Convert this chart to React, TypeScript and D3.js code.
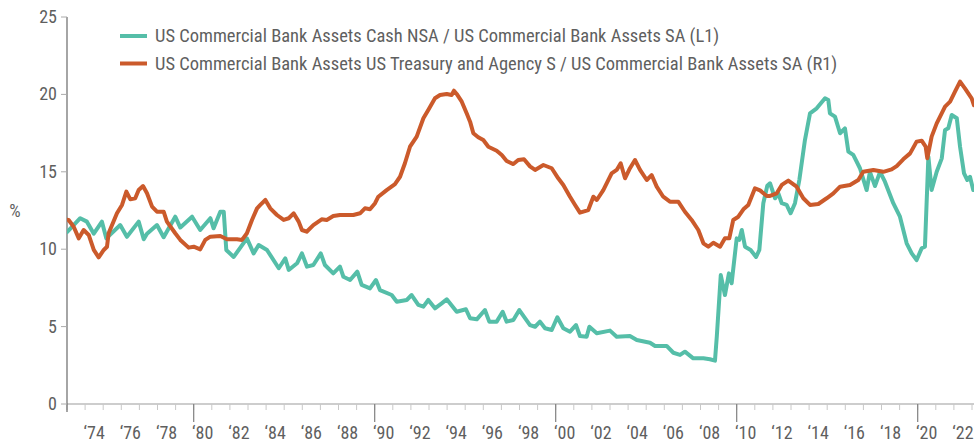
import React from "react";
import * as d3 from "d3";

const cashYears = [1973.0,1973.73,1974.1,1974.48,1974.93,1975.17,1975.94,1976.31,1976.96,1977.24,1977.42,1977.97,1978.34,1978.98,1979.26,1979.91,1980.36,1980.92,1981.1,1981.47,1981.66,1981.8,1982.21,1982.94,1983.31,1983.59,1984.05,1984.7,1985.06,1985.25,1985.71,1985.98,1986.26,1986.61,1987.02,1987.25,1987.71,1988.08,1988.27,1988.64,1989.04,1989.28,1989.74,1990.07,1990.29,1990.94,1991.22,1991.77,1992.04,1992.41,1992.69,1992.96,1993.33,1993.7,1993.98,1994.53,1995.04,1995.27,1995.64,1996.09,1996.33,1996.74,1997.07,1997.29,1997.66,1997.99,1998.58,1998.86,1999.13,1999.41,1999.78,2000.09,2000.42,2000.79,2001.12,2001.34,2001.71,2001.86,2002.27,2003.0,2003.37,2004.1,2004.48,2005.21,2005.49,2006.13,2006.5,2006.87,2007.14,2007.6,2008.16,2008.52,2008.8,2008.9,2009.12,2009.35,2009.57,2009.72,2010.0,2010.14,2010.28,2010.46,2010.77,2011.07,2011.25,2011.47,2011.69,2011.84,2012.12,2012.3,2012.49,2012.76,2012.98,2013.22,2013.46,2013.77,2014.05,2014.42,2014.88,2015.06,2015.15,2015.43,2015.71,2015.98,2016.17,2016.44,2016.81,2017.18,2017.36,2017.64,2017.92,2018.19,2018.65,2019.02,2019.39,2019.67,2019.94,2020.22,2020.4,2020.59,2020.77,2021.05,2021.33,2021.51,2021.69,2021.88,2022.16,2022.34,2022.56,2022.74,2022.89,2023.07];
const cashValues = [11.1,12.0,11.78,11.0,11.78,10.7,11.56,10.8,11.78,10.64,11.0,11.56,10.77,12.1,11.4,12.1,11.24,12.0,11.35,12.42,12.42,9.95,9.5,10.7,9.73,10.27,9.95,8.77,9.41,8.66,9.09,9.73,8.87,8.98,9.73,8.98,8.44,8.87,8.22,8.01,8.55,7.69,7.47,8.01,7.36,7.04,6.61,6.72,7.04,6.4,6.29,6.72,6.18,6.5,6.76,5.96,6.12,5.54,5.47,6.07,5.32,5.32,5.96,5.32,5.43,6.07,5.1,4.99,5.32,4.89,4.78,5.6,4.89,4.67,5.1,4.39,4.35,4.99,4.57,4.74,4.35,4.39,4.13,3.96,3.75,3.75,3.31,3.17,3.38,2.95,2.95,2.89,2.8,4.35,8.33,7.04,8.44,7.8,10.7,10.6,11.24,10.16,9.95,9.5,9.95,12.97,14.1,14.26,13.29,13.6,12.97,12.86,12.32,12.97,14.47,17.05,18.78,19.1,19.75,19.64,18.78,18.56,17.49,17.81,16.3,16.09,15.23,13.82,15.0,14.08,15.0,14.36,12.97,12.1,10.38,9.73,9.3,10.06,10.16,15.98,13.82,15.0,15.87,17.7,17.81,18.67,18.46,16.62,14.9,14.47,14.68,13.82];

const treasuryYears = [1973.0,1973.09,1973.37,1973.65,1973.92,1974.2,1974.48,1974.75,1975.03,1975.21,1975.3,1975.76,1976.04,1976.28,1976.5,1976.77,1976.96,1977.2,1977.42,1977.7,1977.97,1978.34,1978.52,1978.98,1979.26,1979.72,1980.0,1980.36,1980.64,1980.92,1981.47,1981.84,1982.39,1982.67,1982.94,1983.22,1983.5,1983.68,1983.96,1984.23,1984.6,1984.97,1985.25,1985.52,1985.8,1985.98,1986.24,1986.61,1987.07,1987.35,1987.71,1988.08,1988.82,1989.19,1989.46,1989.74,1990.02,1990.2,1990.66,1991.12,1991.4,1991.67,1991.95,1992.32,1992.69,1992.96,1993.33,1993.61,1993.98,1994.25,1994.38,1994.53,1994.81,1995.08,1995.27,1995.45,1995.72,1996.0,1996.28,1996.74,1997.02,1997.29,1997.66,1997.93,1998.25,1998.58,1998.86,1999.32,1999.78,2000.14,2000.42,2000.79,2001.07,2001.34,2001.8,2002.08,2002.27,2002.63,2003.09,2003.37,2003.59,2003.83,2004.07,2004.38,2004.66,2005.03,2005.3,2005.58,2005.94,2006.31,2006.77,2007.14,2007.51,2007.88,2008.16,2008.43,2008.71,2009.08,2009.35,2009.59,2009.81,2010.09,2010.37,2010.64,2011.01,2011.29,2011.66,2011.84,2012.21,2012.49,2012.85,2013.31,2013.68,2014.05,2014.51,2014.97,2015.34,2015.71,2016.26,2016.72,2016.99,2017.55,2018.1,2018.56,2018.84,2019.2,2019.58,2019.94,2020.22,2020.44,2020.53,2020.77,2021.05,2021.51,2021.79,2022.06,2022.34,2022.61,2022.98,2023.11];
const treasuryValues = [11.9,11.89,11.45,10.7,11.24,10.92,9.95,9.47,9.95,10.16,11.03,12.32,12.86,13.72,13.22,13.29,13.82,14.08,13.61,12.75,12.42,12.42,11.78,11.03,10.6,10.1,10.16,9.99,10.6,10.81,10.85,10.64,10.64,10.6,11.03,11.89,12.64,12.86,13.18,12.64,12.21,11.89,12.0,12.32,11.78,11.24,11.13,11.56,11.93,11.89,12.14,12.21,12.21,12.32,12.64,12.58,12.97,13.39,13.82,14.21,14.68,15.55,16.62,17.27,18.46,18.99,19.75,19.96,20.03,19.96,20.24,20.03,19.53,18.78,18.24,17.49,17.23,17.05,16.62,16.36,16.09,15.7,15.5,15.76,15.81,15.35,15.12,15.44,15.23,14.58,14.15,13.39,12.86,12.36,12.53,13.39,13.18,13.82,14.9,15.12,15.55,14.58,15.16,15.76,15.12,14.47,14.79,14.04,13.39,13.07,13.07,12.42,11.89,11.24,10.38,10.16,10.42,10.16,10.7,10.7,11.89,12.1,12.58,12.86,13.93,13.8,13.44,13.44,13.61,14.15,14.43,14.04,13.29,12.86,12.92,13.29,13.61,14.04,14.15,14.47,15.0,15.12,15.0,15.16,15.37,15.81,16.19,16.95,17.01,16.62,15.87,17.27,18.13,19.21,19.53,20.18,20.83,20.39,19.75,19.3];

const yTicks = [0, 5, 10, 15, 20, 25];
const labelYears = d3.range(1974, 2023, 2);
const minorYears = d3.range(1973, 2024, 1);
const majorYears = [1980, 1990, 2000, 2010, 2020];
const legendLabels = [
  "US Commercial Bank Assets Cash NSA / US Commercial Bank Assets SA (L1)",
  "US Commercial Bank Assets US Treasury and Agency S / US Commercial Bank Assets SA (R1)",
];
const yAxisTitle = "%";

const W = 974, H = 443;
const left = 67, right = 974, top = 17, bottom = 404;
const TEAL = "#55bea8";
const ORANGE = "#cb5a2b";
const TEXT = "#5f5f5f";
const FONT = "'Liberation Sans Narrow', 'Roboto Condensed', 'Arial Narrow', sans-serif";

export default function App() {
  const x = d3.scaleLinear().domain([1973, 1973 + (right - left) / 18.1]).range([left, right]);
  const y = d3.scaleLinear().domain([0, 25]).range([bottom, top]);
  const line = d3.line<[number, number]>().x(d => x(d[0])).y(d => y(d[1]));
  const cash: [number, number][] = cashYears.map((t, i) => [t, cashValues[i]]);
  const tre: [number, number][] = treasuryYears.map((t, i) => [t, treasuryValues[i]]);
  const series = [
    { data: cash, color: TEAL },
    { data: tre, color: ORANGE },
  ];
  return (
    <svg width={W} height={H} style={{ position: "absolute", left: 0, top: 0, background: "#fff" }} fontFamily={FONT}>
      <defs>
        <clipPath id="plot">
          <rect x={left} y={0} width={right - left} height={bottom} />
        </clipPath>
      </defs>
      {/* bottom axis */}
      <line x1={left} x2={right} y1={bottom} y2={bottom} stroke="#bdbdbd" strokeWidth={1.5} />
      {minorYears.map(t => (
        <line key={"m" + t} x1={x(t)} x2={x(t)} y1={bottom} y2={bottom + 6} stroke="#c8c8c8" strokeWidth={1} />
      ))}
      {majorYears.map(t => (
        <line key={"M" + t} x1={x(t)} x2={x(t)} y1={bottom} y2={bottom + 18} stroke="#808080" strokeWidth={1.2} />
      ))}
      {labelYears.map(t => (
        <text key={"l" + t} x={x(t + 0.5)} y={439} textAnchor="middle" fontSize={18} fill={TEXT}>
          {"\u2018" + String(t).slice(2)}
        </text>
      ))}
      {/* left axis */}
      <line x1={left} x2={left} y1={top} y2={bottom + 8} stroke="#6a6a6a" strokeWidth={1.2} />
      {yTicks.map(v => (
        <g key={"y" + v}>
          <line x1={left - 6} x2={left} y1={y(v)} y2={y(v)} stroke="#aaaaaa" strokeWidth={1} />
          <text x={left - 10} y={y(v) + 6} textAnchor="end" fontSize={18} fill={TEXT}>{v}</text>
        </g>
      ))}
      <text x={15} y={217} textAnchor="middle" fontSize={18} fill={TEXT}>{yAxisTitle}</text>
      {/* series */}
      <g clipPath="url(#plot)">
        {series.map((s, i) => (
          <path key={i} d={line(s.data) || ""} fill="none" stroke={s.color} strokeWidth={4} strokeLinejoin="round" strokeLinecap="round" />
        ))}
      </g>
      {/* legend */}
      {legendLabels.map((lab, i) => (
        <g key={"lg" + i}>
          <line x1={120} x2={147} y1={36 + i * 27.5} y2={36 + i * 27.5} stroke={i === 0 ? TEAL : ORANGE} strokeWidth={4} />
          <text x={155} y={42 + i * 28} fontSize={18.5} fill={TEXT}>{lab}</text>
        </g>
      ))}
    </svg>
  );
}
